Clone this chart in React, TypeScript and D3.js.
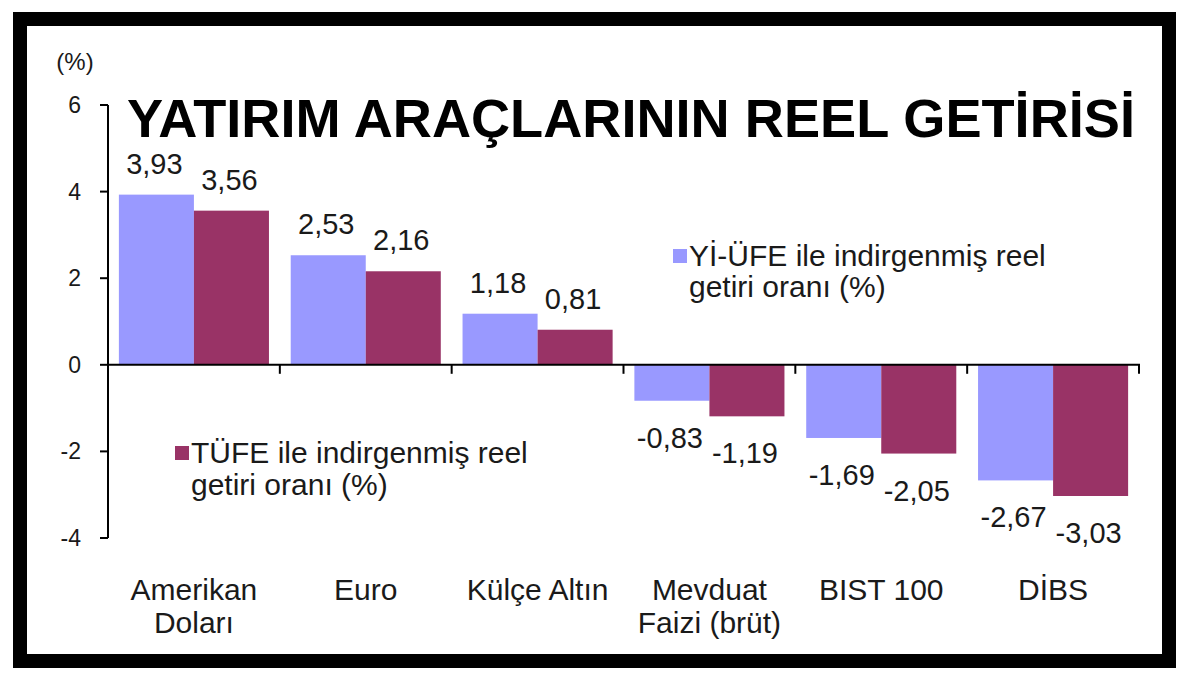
import * as d3 from "d3"

const categories = ["Amerikan Doları", "Euro", "Külçe Altın", "Mevduat Faizi (brüt)", "BIST 100", "DİBS"]
const categoryLines = [["Amerikan", "Doları"], ["Euro"], ["Külçe Altın"], ["Mevduat", "Faizi (brüt)"], ["BIST 100"], ["DİBS"]]
const seriesNames = ["yiufe", "tufe"]
const yiufeValues = [3.93, 2.53, 1.18, -0.83, -1.69, -2.67]
const tufeValues = [3.56, 2.16, 0.81, -1.19, -2.05, -3.03]
const yTicks = [6, 4, 2, 0, -2, -4]

const colors: Record<string, string> = { yiufe: "#9999FF", tufe: "#993366" }
const FONT = "'Liberation Sans', Arial, sans-serif"
const TEXT = "#1a1a1a"

export default function App() {
  const W = 1200
  const H = 682

  const x0 = d3.scaleBand<string>().domain(categories).range([108, 1139]).padding(0)
  const x1 = d3
    .scaleBand<string>()
    .domain(seriesNames)
    .range([0, x0.bandwidth()])
    .paddingInner(0)
    .paddingOuter(0.145)
  const y = d3.scaleLinear().domain([-4, 6]).range([538, 105])

  const fmt = (v: number) => v.toFixed(2).replace(".", ",")

  const rows = categories.map((c, i) => ({ c, yiufe: yiufeValues[i], tufe: tufeValues[i] }))

  const boundaries = categories.map((c) => x0(c)!).concat([x0.range()[1]])

  return (
    <div style={{ position: "absolute", left: 0, top: 0 }}>
      <svg width={W} height={H} style={{ display: "block", background: "#fff" }} fontFamily={FONT}>
        {/* frame */}
        <rect x={20} y={19} width={1149} height={642} fill="none" stroke="#000" strokeWidth={14} />

        {/* title */}
        <text
          x={127}
          y={137}
          fontSize={54}
          fontWeight="bold"
          fill="#000"
          textLength={1008}
          lengthAdjust="spacingAndGlyphs"
        >
          YATIRIM ARAÇLARININ REEL GETİRİSİ
        </text>

        {/* unit */}
        <text x={75} y={70} fontSize={24} fill={TEXT} textAnchor="middle">
          (%)
        </text>

        {/* bars */}
        {rows.map((r) =>
          seriesNames.map((s) => {
            const v = (r as any)[s] as number
            const bx = x0(r.c)! + x1(s)!
            const top = Math.min(y(v), y(0))
            const h = Math.abs(y(v) - y(0))
            return <rect key={r.c + s} x={bx} y={top} width={x1.bandwidth()} height={h} fill={colors[s]} />
          }),
        )}

        {/* value labels */}
        {rows.map((r) =>
          seriesNames.map((s) => {
            const v = (r as any)[s] as number
            const cx = x0(r.c)! + x1(s)! + x1.bandwidth() / 2 - 2
            const ly = v >= 0 ? y(v) - 21 : y(v) + 47
            return (
              <text key={"l" + r.c + s} x={cx} y={ly} fontSize={29} fill={TEXT} textAnchor="middle">
                {fmt(v)}
              </text>
            )
          }),
        )}

        {/* y axis */}
        <line x1={108} x2={108} y1={y(6)} y2={y(-4)} stroke="#000" strokeWidth={2} />
        {yTicks.map((t) => (
          <g key={t}>
            <line x1={100} x2={108} y1={y(t)} y2={y(t)} stroke="#000" strokeWidth={2} />
            <text x={81} y={y(t) + 8} fontSize={23} fill={TEXT} textAnchor="end">
              {t}
            </text>
          </g>
        ))}

        {/* x axis at zero */}
        <line x1={108} x2={1140} y1={y(0)} y2={y(0)} stroke="#000" strokeWidth={2} />
        {boundaries.map((b, i) => (
          <line key={i} x1={b} x2={b} y1={y(0)} y2={y(0) + 9} stroke="#000" strokeWidth={2} />
        ))}

        {/* category labels */}
        {categories.map((c, i) => (
          <text key={c} x={x0(c)! + x0.bandwidth() / 2} y={600} fontSize={30} fill={TEXT} textAnchor="middle">
            {categoryLines[i].map((ln, j) => (
              <tspan key={j} x={x0(c)! + x0.bandwidth() / 2} dy={j === 0 ? 0 : 33}>
                {ln}
              </tspan>
            ))}
          </text>
        ))}

        {/* legend: Yİ-ÜFE */}
        <rect x={673} y={249} width={14} height={14} fill={colors.yiufe} />
        <text x={689} y={266} fontSize={30} fill={TEXT}>
          Yİ-ÜFE ile indirgenmiş reel
        </text>
        <text x={689} y={297} fontSize={30} fill={TEXT}>
          getiri oranı (%)
        </text>

        {/* legend: TÜFE */}
        <rect x={175} y={446} width={14} height={14} fill={colors.tufe} />
        <text x={191} y={463} fontSize={30} fill={TEXT}>
          TÜFE ile indirgenmiş reel
        </text>
        <text x={191} y={495} fontSize={30} fill={TEXT}>
          getiri oranı (%)
        </text>
      </svg>
    </div>
  )
}
